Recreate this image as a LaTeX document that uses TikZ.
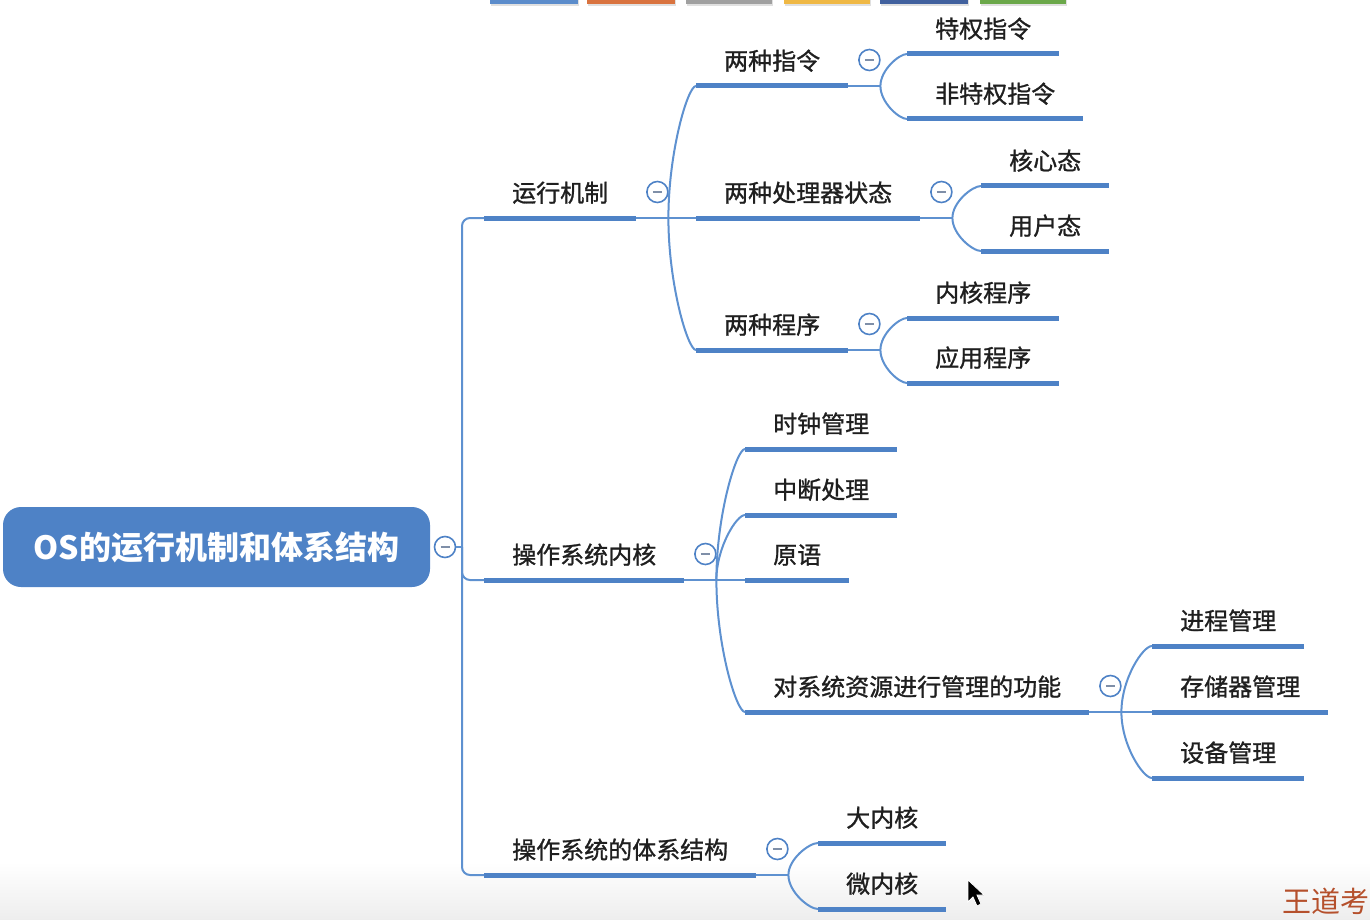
\documentclass[tikz,border=0pt]{standalone}
\usepackage{fontspec}
\setmainfont{Noto Sans CJK SC}
\newfontfamily\topicfont{Noto Sans CJK SC}[FakeBold=1.1]
\usetikzlibrary{calc}

\definecolor{mapblue}{HTML}{4E82C6}
\definecolor{linkblue}{HTML}{5E91D0}
\definecolor{foldgray}{HTML}{7F8FA8}
\definecolor{inkred}{HTML}{B5502C}

\tikzset{
  root/.style={fill=mapblue, text=white, rounded corners=18pt, minimum width=427pt,
    minimum height=80pt, font=\fontsize{32pt}{38pt}\selectfont\bfseries},
  topic/.style={anchor=south west, inner xsep=28pt, inner ysep=12pt, text height=17pt,
    text depth=4pt, text=black!88, font=\topicfont\fontsize{24pt}{28pt}\selectfont},
  uline/.style={line width=5pt, draw=mapblue},
  conn/.style={line width=2pt, draw=linkblue},
  fold/.style={circle, draw=mapblue, line width=1.6pt, minimum size=21pt, inner sep=0pt, fill=white},
}
\newcommand{\foldmark}{\textcolor{foldgray}{\rule{9pt}{1.6pt}}}

\begin{document}
\begin{tikzpicture}[x=1pt, y=-1pt]
  \useasboundingbox (0,0) rectangle (1370,920);
  \shade[top color=white, bottom color=black!7] (0,862) rectangle (1370,920);
  % toolbar strip at the top
  \foreach \xa/\xb/\col in {490/578/5B8CCB, 587/675/D9733F, 686/772/A0A0A0,
                            784/870/EFB845, 880/968/41619E, 980/1066/6BA84A} {
    \definecolor{barcol}{HTML}{\col}
    \fill[black, opacity=0.12] (\xa+1,0) rectangle (\xb+1,6);
    \fill[barcol] (\xa,0) rectangle (\xb,4);
  }

  % root
  \node[root] (root) at (216.5,547) {OS的运行机制和体系结构};
  \node[fold] (f0) at (445,547) {\foldmark};
  \coordinate (t0) at (462,547);

  % main topics
  \node[topic] (run)  at (484,218) {运行机制};
  \node[topic] (kern) at (484,580) {操作系统内核};
  \node[topic] (arch) at (484,875) {操作系统的体系结构};

  % 运行机制
  \node[topic] (ins) at (696,86)  {两种指令};
  \node[topic] (cpu) at (696,218) {两种处理器状态};
  \node[topic] (prg) at (696,350) {两种程序};
  \node[topic] (priv)  at (907,54)  {特权指令};
  \node[topic] (npriv) at (907,119) {非特权指令};
  \node[topic] (kmode) at (981,186) {核心态};
  \node[topic] (umode) at (981,251) {用户态};
  \node[topic] (kprog) at (907,318) {内核程序};
  \node[topic] (aprog) at (907,383) {应用程序};

  % 操作系统内核
  \node[topic] (clk)  at (745,449) {时钟管理};
  \node[topic] (intr) at (745,515) {中断处理};
  \node[topic] (prim) at (745,580) {原语};
  \node[topic] (res)  at (745,712) {对系统资源进行管理的功能};
  \node[topic] (proc) at (1152,646) {进程管理};
  \node[topic] (mem)  at (1152,712) {存储器管理};
  \node[topic] (dev)  at (1152,778) {设备管理};

  % 操作系统的体系结构
  \node[topic] (big)   at (818,843) {大内核};
  \node[topic] (micro) at (818,909) {微内核};

  % underlines
  \foreach \n in {run,kern,arch,ins,cpu,prg,priv,npriv,kmode,umode,kprog,aprog,
                  clk,intr,prim,res,proc,mem,dev,big,micro}
    \draw[uline] (\n.south west) -- (\n.south east);

  % trunk from the root
  \draw[conn] (f0.east) -- (t0);
  \foreach \n in {run,kern,arch}
    \draw[conn, rounded corners=8pt] (t0) |- (\n.south west);

  % curved branches: parent/children
  \foreach \p/\kids in {run/{ins,cpu,prg}, ins/{priv,npriv}, cpu/{kmode,umode},
                        prg/{kprog,aprog}, kern/{clk,intr,prim,res},
                        res/{proc,mem,dev}, arch/{big,micro}} {
    \node[fold] at ([xshift=21pt, yshift=26pt]\p.south east) {\foldmark};
    \coordinate (j) at ([xshift=32pt]\p.south east);
    \draw[conn] (\p.south east) -- (j);
    \foreach \c in \kids {
      \coordinate (k) at (j |- \c.south west);
      \draw[conn] (j) .. controls ($(j)!0.5!(k)$) and ($(k)!0.7!(\c.south west)$) .. (\c.south west);
    }
  }

  % mouse pointer and corner mark
  \filldraw[fill=black, draw=white, line width=0.8pt]
    (968,880) -- (968,902) -- (973,897) -- (977,906) -- (981,904) -- (977,895) -- (984,895) -- cycle;
  \node[anchor=west, inner sep=0pt, text=inkred, font=\fontsize{29pt}{34pt}\selectfont]
    (mark) at (1282,901) {王道考};
\end{tikzpicture}
\end{document}
